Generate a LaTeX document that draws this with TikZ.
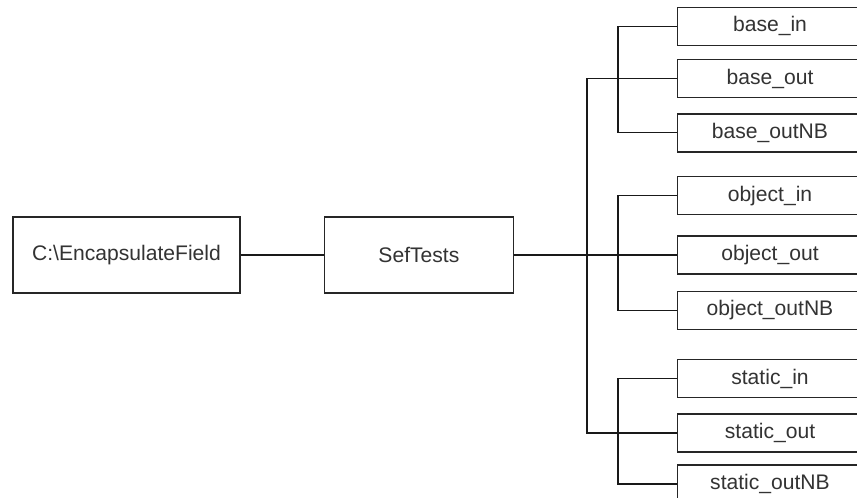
\documentclass[tikz,border=0pt]{standalone}
\usepackage{fontspec}
\setmainfont{Liberation Sans}
\usetikzlibrary{positioning, calc}

\begin{document}
\begin{tikzpicture}[
    x=0.03cm, y=-0.03cm,
    node distance=0.45cm,
    box/.style={draw=black!85, line width=1.2pt, fill=white, align=center, text=black!80, font=\fontsize{18}{21}\selectfont},
    dir_blk/.style={box, minimum width=6.81cm, minimum height=2.28cm},
    sef_blk/.style={box, minimum width=5.67cm, minimum height=2.28cm},
    leaf_blk/.style={box, minimum width=5.55cm, minimum height=1.14cm},
    link/.style={draw=black!90, line width=1pt}
]
    \clip (0,0) rectangle (857,498);

    % Root and test folder
    \node[dir_blk] (root) at (126.5,255) {C:\textbackslash EncapsulateField};
    \node[sef_blk, right=2.49cm of root] (sef) {SefTests};

    % Base group
    \node[leaf_blk] (base_out) at (770,78.5) {base\_out};
    \node[leaf_blk, above=0.38cm of base_out] (base_in) {base\_in};
    \node[leaf_blk, below=of base_out] (base_outNB) {base\_outNB};

    % Object group
    \node[leaf_blk] (object_out) at (770,255) {object\_out};
    \node[leaf_blk, above=0.6cm of object_out] (object_in) {object\_in};
    \node[leaf_blk, below=0.48cm of object_out] (object_outNB) {object\_outNB};

    % Static group
    \node[leaf_blk] (static_out) at (770,433) {static\_out};
    \node[leaf_blk, above=of static_out] (static_in) {static\_in};
    \node[leaf_blk, below=0.35cm of static_out] (static_outNB) {static\_outNB};

    \coordinate (trunk) at (587,0);
    \coordinate (brk) at (618,0);

    % Main links
    \draw[link] (root) -- (sef);
    \draw[link] (sef) -- (object_out);
    \draw[link] (base_out.west) -- (base_out.west -| trunk) -- (static_out.west -| trunk) -- (static_out.west);

    % Group brackets
    \draw[link] (base_in.west) -- (base_in.west -| brk) -- (base_outNB.west -| brk) -- (base_outNB.west);
    \draw[link] (object_in.west) -- (object_in.west -| brk) -- (object_outNB.west -| brk) -- (object_outNB.west);
    \draw[link] (static_in.west) -- (static_in.west -| brk) -- (static_outNB.west -| brk) -- (static_outNB.west);

\end{tikzpicture}
\end{document}
